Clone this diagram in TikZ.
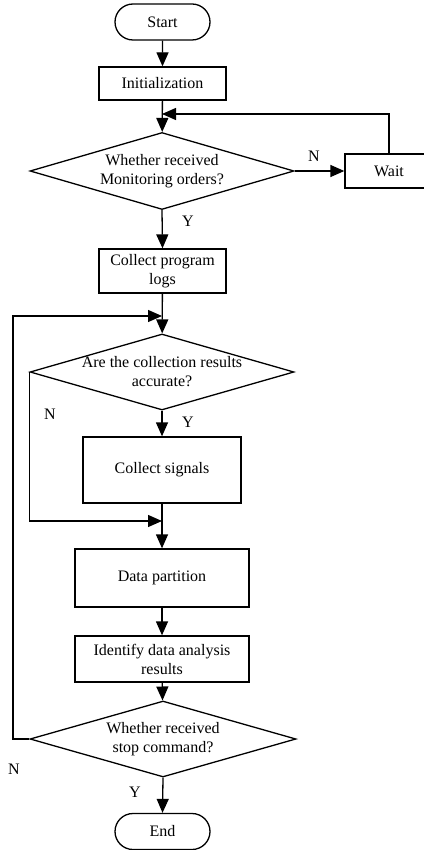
\documentclass[tikz,border=0pt]{standalone}
\usepackage{fontspec}
\setmainfont{Liberation Serif}
\usetikzlibrary{shapes.geometric, shapes.misc, arrows.meta}

\tikzset{
    flow/.style={-{Triangle[length=14pt, width=12pt]}, line width=1.3pt},
    proc/.style={draw, line width=1.3pt, rectangle, align=center, inner sep=0pt},
    term/.style={draw, line width=1.3pt, rounded rectangle, inner sep=0pt,
        minimum width=95pt, minimum height=36pt},
    decide/.style={draw, line width=1.3pt, diamond, inner sep=0pt},
    lbl/.style={inner sep=0pt}
}

\begin{document}
\begin{tikzpicture}[x=1pt, y=-1pt, font=\fontsize{16}{19}\selectfont]
            \useasboundingbox (0, 0) rectangle (423, 850);

            % the main column
            \node[term] (start) at (162.5, 22) {Start};
            \node[proc, minimum width=127pt, minimum height=33pt] (init) at (162.5, 83.5) {Initialization};
            \node[decide, minimum width=264pt, minimum height=77pt] (ask) at (162, 171) {};
            \node[align=center] (askt) at (ask) {Whether received\\Monitoring orders?};
            \node[proc, minimum width=88pt, minimum height=34pt] (wait) at (389, 171) {Wait};
            \node[proc, minimum width=127pt, minimum height=44pt] (logs) at (162.5, 271)
                {Collect program\\logs};
            \node[decide, minimum width=264pt, minimum height=76pt] (check) at (162, 372) {};
            \node[align=center] (checkt) at (check) {Are the collection results\\accurate?};
            \node[proc, minimum width=158pt, minimum height=66pt] (signals) at (162, 470) {Collect signals};
            \node[proc, minimum width=174pt, minimum height=58pt] (part) at (162, 578) {Data partition};
            \node[proc, minimum width=174pt, minimum height=46pt] (ident) at (162, 659)
                {Identify data analysis\\results};
            \node[decide, minimum width=266pt, minimum height=76pt] (stop) at (163, 739) {};
            \node[align=center] (stopt) at (stop) {Whether received\\stop command?};
            \node[term] (end) at (162.5, 831.5) {End};

            % the junctions of the loops
            \coordinate (join1) at (162, 114);
            \coordinate (join2) at (162, 316);
            \coordinate (join3) at (162, 521);
            \coordinate (back) at (13, 739);

            % the straight arrows
            \foreach \a/\b in {start/init, init/ask, logs/check, check/signals,
                signals/part, part/ident, ident/stop}{
                \draw[flow] (\a) -- (\b);
            }
            \draw[flow] (stop.south) -- (end.north);
            \draw[flow] (ask.south) -- (logs.north);
            \draw[flow] (ask.east) -- (wait.west);

            % the loops
            \draw[flow] (wait.north) |- (join1);
            \draw[flow] (check.west) |- (join3);
            \draw[flow] (stop.west) -- (back) |- (join2);

            % the branch labels
            \node[lbl] (n1) at (314, 156) {N};
            \node[lbl] (y1) at (188, 221) {Y};
            \node[lbl] (n2) at (50, 414) {N};
            \node[lbl] (y2) at (188, 422) {Y};
            \node[lbl] (n3) at (14, 769) {N};
            \node[lbl] (y3) at (135, 792) {Y};
        \end{tikzpicture}
\end{document}
